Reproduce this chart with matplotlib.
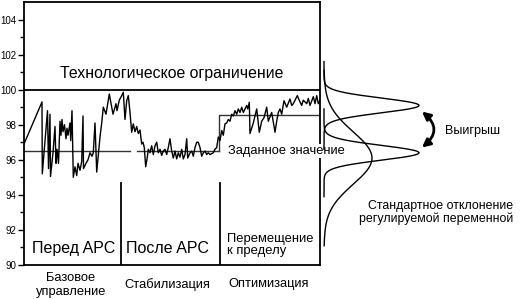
import numpy as np
import matplotlib
matplotlib.use('Agg')
import matplotlib.pyplot as plt

plt.rcParams['font.family'] = ['Liberation Sans', 'DejaVu Sans']

# process trace: time (samples) and value
trace_t = [0, 18, 18.3, 23.5, 24.5, 26, 26.5, 29, 31, 32, 33, 34.5, 36, 37, 38, 39, 40.5, 42, 43, 44, 46,
           46.7, 48, 49.3, 51, 52.7, 54, 56, 57.7, 59, 59.5, 62, 64, 66, 68, 69.3, 71, 72.7, 76, 77.7,
           79.3, 82, 85.3, 89, 92, 93, 95.3, 97.7, 99.3, 101, 102.7, 104.3, 106, 107.7, 109.3, 111, 112.7,
           114.3, 116, 117.7, 119, 120.3, 121.7, 123.3, 124.3, 126, 127.7, 129.3, 131, 132.7, 134.3, 136,
           137.7, 139.3, 141, 142.7, 144.3, 146, 147.7, 149.3, 151, 152.7, 154.3, 156, 157.7, 159.3, 161,
           162.7, 163.7, 166, 167.7, 169.3, 171, 172.7, 174.3, 176, 177.7, 179.3, 181, 182.7, 184.3, 186,
           187.7, 189.3, 191, 192.7, 194.3, 196, 197.7, 199.3, 201, 202.7, 204.3, 206, 207.7, 209.3, 211,
           212.7, 214.3, 216, 217.7, 219.3, 221, 222.7, 223.7, 225.3, 226, 229.3, 232.7, 235.3, 237.7, 240,
           242.7, 244.3, 247.7, 251, 252.7, 254.3, 256, 257.7, 260, 262.7, 266, 267.7, 269.3, 271, 273.3,
           276, 277.7, 279.3, 282.7, 284.3, 286, 289.3, 291, 292.7, 294.3, 296]
trace_v = [96.9, 99.3, 95.2, 98.8, 95.5, 98.6, 95.05, 96.4, 97.9, 95.8, 96.6, 95.8, 98.2, 97.4, 98.3,
           97.6, 98.0, 97.2, 97.8, 97.4, 98.1, 97.1, 98.8, 95.0, 95.6, 95.1, 95.8, 95.4, 95.9, 98.5, 95.5,
           95.8, 96.0, 96.4, 96.2, 96.4, 98.1, 95.3, 97.3, 98.1, 99.0, 98.6, 99.75, 98.6, 99.2, 98.8, 99.4,
           99.66, 99.85, 98.3, 99.37, 99.66, 98.7, 97.57, 98.05, 97.6, 97.9, 97.5, 97.7, 96.9, 97.0, 96.7,
           95.6, 96.15, 96.6, 96.4, 96.8, 96.3, 96.8, 97.0, 96.4, 96.6, 96.25, 96.5, 96.6, 96.3, 96.7, 97.2,
           96.5, 96.1, 96.5, 96.05, 96.4, 96.15, 96.6, 96.05, 96.3, 97.2, 96.1, 96.4, 96.5, 96.2, 96.7,
           97.0, 97.0, 96.7, 96.2, 96.4, 96.5, 96.3, 96.4, 96.3, 96.35, 96.4, 96.6, 96.7, 97.3, 97.1, 97.67,
           97.4, 98.05, 98.1, 98.3, 98.2, 98.6, 98.5, 98.8, 98.6, 98.9, 98.7, 99.0, 98.7, 98.9, 99.1, 98.9,
           99.28, 97.5, 98.1, 98.9, 97.57, 98.2, 98.4, 99.0, 98.2, 98.7, 97.57, 98.2, 98.7, 98.9, 98.6,
           99.37, 99.0, 99.47, 99.1, 99.2, 99.4, 99.66, 99.3, 99.1, 99.4, 99.2, 99.5, 99.1, 99.6, 99.2,
           99.66, 99.2, 99.4]

# setpoint / limit
limit_value = 100
setpoint_before = 96.5
setpoint_after = 98.55
setpoint_t = [[0, 106], [113, 195], [195, 296]]
phase_bounds = [97, 196]

# distributions on the right: centre, sigma, height
dist_centre = [99.1, 96.4, 96.1]
dist_sigma = [0.42, 0.42, 1.5]
dist_height = [95, 95, 48]

fig = plt.figure(figsize=(5.22, 2.99), dpi=100)
ax = fig.add_axes([24 / 522, 34 / 299, 296 / 522, 263 / 299])

ax.plot(trace_t, trace_v, color='black', lw=1.0, zorder=3)
ax.axhline(limit_value, color='black', lw=1.3)
ax.plot(setpoint_t[0], [setpoint_before] * 2, color='#333333', lw=1.0)
ax.plot(setpoint_t[1], [setpoint_before] * 2, color='#333333', lw=1.0)
ax.plot([setpoint_t[2][0], setpoint_t[2][0], setpoint_t[2][1]],
        [setpoint_before, setpoint_after, setpoint_after], color='#333333', lw=1.0)
for b in phase_bounds:
    ax.plot([b, b], [90, 94.65], color='black', lw=1.3)

ax.set_xlim(0, 296)
ax.set_ylim(90, 105)
ax.set_xticks([])
ax.set_yticks(np.arange(90, 105, 2))
ax.set_yticks(np.arange(91, 105, 2), minor=True)
ax.tick_params(axis='y', which='major', length=4, width=1, labelsize=7, pad=1.5)
ax.tick_params(axis='y', which='minor', length=3, width=1)
for s in ax.spines.values():
    s.set_linewidth(1.3)

ax.text(148, 100.9, 'Технологическое ограничение', ha='center', va='center', fontsize=11.4)
ax.text(204, 96.5, 'Заданное значение', ha='left', va='center', fontsize=9.3, clip_on=False,
        zorder=5, bbox=dict(facecolor='white', edgecolor='none', pad=0.5))
ax.text(50, 90.95, 'Перед APC', ha='center', va='center', fontsize=11.5)
ax.text(143, 90.95, 'После APC', ha='center', va='center', fontsize=11.5)
ax.text(203, 91.15, 'Перемещение\nк пределу', ha='left', va='center', fontsize=9.4, linespacing=0.95)
ax.text(47, 88.85, 'Базовое\nуправление', ha='center', va='center', fontsize=9.3, clip_on=False)
ax.text(143.5, 88.9, 'Стабилизация', ha='center', va='center', fontsize=9.3, clip_on=False)
ax.text(245, 88.9, 'Оптимизация', ha='center', va='center', fontsize=9.3, clip_on=False)

# right panel with distributions
ax2 = fig.add_axes([322 / 522, 34 / 299, 200 / 522, 263 / 299])
ax2.set_xlim(0, 200)
ax2.set_ylim(90, 105)
ax2.axis('off')
for c, s, h in zip(dist_centre, dist_sigma, dist_height):
    span = 2.5 if s < 1 else 5.0
    y = np.linspace(c - span, c + span, 300)
    x = 2 + h * np.exp(-0.5 * ((y - c) / s) ** 2)
    ax2.plot(x, y, color='black', lw=1.0)

ax2.annotate('', xy=(100, 96.7), xytext=(100, 98.75),
             arrowprops=dict(arrowstyle='<|-|>', connectionstyle='arc3,rad=-0.6',
                             color='black', lw=2, mutation_scale=12, shrinkA=0, shrinkB=0))
ax2.text(123, 97.67, 'Выигрыш', ha='left', va='center', fontsize=9)
ax2.text(191, 92.97, 'Стандартное отклонение\nрегулируемой переменной', ha='right', va='center',
         multialignment='right', fontsize=8.9, linespacing=1.05)

fig.savefig('out.png', dpi=100)
